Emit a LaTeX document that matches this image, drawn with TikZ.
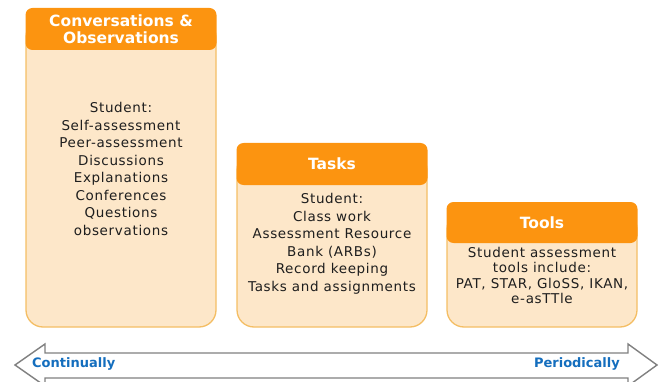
\documentclass[tikz,border=0pt]{standalone}
\usepackage{fontspec}
\setmainfont{DejaVu Sans}
\newfontfamily\bodyfont[LetterSpace=5]{DejaVu Sans}
\definecolor{hdr}{RGB}{252,148,16}
\definecolor{bodyfill}{RGB}{253,231,201}
\definecolor{bodyedge}{RGB}{244,190,100}
\definecolor{arrowgray}{RGB}{128,128,128}
\definecolor{bluetxt}{RGB}{20,110,190}
\definecolor{txt}{RGB}{30,30,30}
\tikzset{
  bodybox/.style={fill=bodyfill, draw=bodyedge, line width=1.3pt, rounded corners=17pt, minimum width=190pt, inner sep=0pt},
  header/.style={fill=hdr, draw=none, rounded corners=7pt, minimum width=191pt, inner sep=0pt, text=white,
    font=\fontsize{15.5}{17}\selectfont\bfseries, align=center},
  bodytext/.style={text=txt, align=center, inner sep=0pt, font=\bodyfont\fontsize{13.5}{17.5}\selectfont},
  endlabel/.style={text=bluetxt, inner sep=0pt, font=\fontsize{13}{14}\selectfont\bfseries}
}
\begin{document}
\begin{tikzpicture}[x=1pt,y=-1pt]
\useasboundingbox (0,0) rectangle (663,382);
% Box 1
\node[bodybox, minimum height=307pt] (box1) at (121,173.5) {};
\node[header, minimum height=42pt] (h1) at (121,29) {Conversations \&\\Observations};
\node[bodytext] (t1) at (121,169) {Student:\\Self-assessment\\Peer-assessment\\Discussions\\Explanations\\Conferences\\Questions\\observations};
% Box 2
\node[bodybox, minimum height=174pt] (box2) at (332,240) {};
\node[header, minimum height=42pt] (h2) at (332,164) {Tasks};
\node[bodytext] (t2) at (332,244) {Student:\\Class work\\Assessment Resource\\Bank (ARBs)\\Record keeping\\Tasks and assignments};
% Box 3
\node[bodybox, minimum height=115pt] (box3) at (542,269.5) {};
\node[header, minimum height=41pt] (h3) at (542,222.5) {Tools};
\node[bodytext, font=\bodyfont\fontsize{13.5}{15.5}\selectfont] (t3) at (542,275.5) {Student assessment\\tools include:\\PAT, STAR, GloSS, IKAN,\\e-asTTle};
% Double arrow
\draw[arrowgray, fill=white, line width=1.4pt, line join=miter]
  (15,365) -- (45,344) -- (45,353) -- (628,353) -- (628,344) -- (657,365)
  -- (628,386) -- (628,378) -- (45,378) -- (45,386) -- cycle;
\node[endlabel, anchor=west] (cont) at (32,364) {Continually};
\node[endlabel, anchor=east] (per) at (620,364) {Periodically};
\end{tikzpicture}
\end{document}
